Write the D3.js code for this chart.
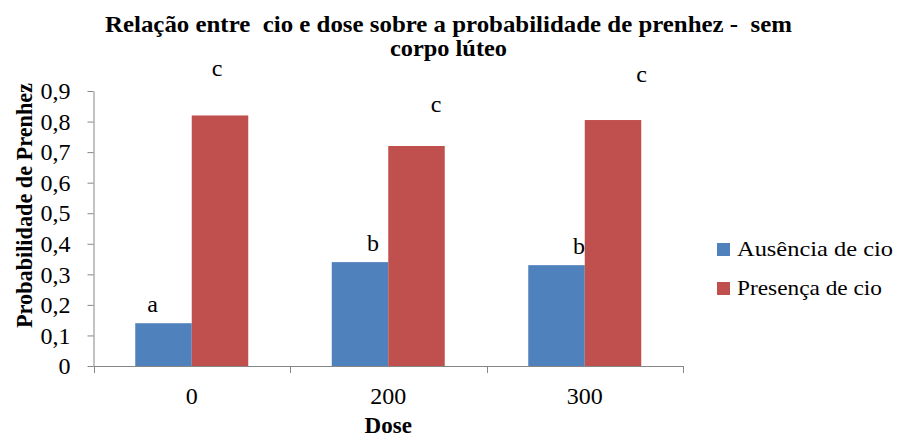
<!DOCTYPE html>
<html>
<head>
<meta charset="utf-8">
<script src="https://cdn.jsdelivr.net/npm/d3@7"></script>
</head>
<body style="margin:0;background:#fff">
<div class="graphic"></div>
<script>
const doses = ["0", "200", "300"];
const series = ["Ausência de cio", "Presença de cio"];
const ausencia = [0.14, 0.34, 0.33];
const presenca = [0.82, 0.72, 0.805];
const letrasAusencia = ["a", "b", "b"];
const letrasPresenca = ["c", "c", "c"];
const yTicks = [0, 0.1, 0.2, 0.3, 0.4, 0.5, 0.6, 0.7, 0.8, 0.9];
const titleLines = ["Relação entre  cio e dose sobre a probabilidade de prenhez -  sem", "corpo lúteo"];

let COLORS = ["#4F81BD", "#C0504D"];
let AXIS = "#868686";
let FONT = "'Tinos', 'Times', serif";
// hand placed letters in the original, offsets from the top centre of each bar
let NUDGE = [[[-11, -11], [-3, -39]], [[13, -11], [19.5, -34]], [[22.5, -11], [28.5, -38]]];

let svg = d3.select(".graphic")
            .append("svg")
            .attr("width", 897)
            .attr("height", 438);

let x0 = d3.scaleBand().domain(doses).range([93.5, 683]).padding(0);
let x1 = d3.scaleBand().domain(series).range([0, x0.bandwidth()])
           .paddingInner(0).paddingOuter(0.739);
let y = d3.scaleLinear().domain([0, 0.9]).range([366, 91]);

let rows = doses.map((d, i) => ({
    dose: d,
    vals: [ausencia[i], presenca[i]],
    letras: [letrasAusencia[i], letrasPresenca[i]]
}));

// title
svg.append("g").selectAll("text")
    .data(titleLines)
    .join("text")
    .attr("x", 448.5)
    .attr("y", (d, i) => 32 + i * 24)
    .attr("text-anchor", "middle")
    .attr("font-size", 24)
    .attr("font-weight", "bold")
    .style("white-space", "pre")
    .attr("textLength", (d, i) => i === 0 ? 687 : 117)
    .attr("lengthAdjust", "spacingAndGlyphs")
    .text(d => d);

// y axis
let yAxis = svg.append("g")
    .attr("transform", "translate(93.5,0)")
    .call(d3.axisLeft(y).tickValues(yTicks).tickSize(6).tickSizeOuter(0).tickPadding(17)
        .tickFormat(d => String(+d.toFixed(1)).replace(".", ",")));
yAxis.selectAll("path, line").attr("stroke", AXIS);
yAxis.selectAll("text").attr("font-size", 24).attr("fill", "#000");

// x axis line and boundary ticks
svg.append("line")
    .attr("x1", x0.range()[0]).attr("x2", x0.range()[1])
    .attr("y1", y(0) + 0.5).attr("y2", y(0) + 0.5)
    .attr("stroke", AXIS);
let bounds = doses.map(d => x0(d)).concat([x0.range()[1]]);
svg.append("g").selectAll("line")
    .data(bounds)
    .join("line")
    .attr("x1", d => Math.round(d) + 0.5).attr("x2", d => Math.round(d) + 0.5)
    .attr("y1", y(0)).attr("y2", y(0) + 7)
    .attr("stroke", AXIS);

svg.append("g").selectAll("text")
    .data(doses)
    .join("text")
    .attr("x", d => x0(d) + x0.bandwidth() / 2)
    .attr("y", 404)
    .attr("text-anchor", "middle")
    .attr("font-size", 24)
    .text(d => d);

// bars
let groups = svg.append("g").selectAll("g")
    .data(rows)
    .join("g")
    .attr("transform", d => `translate(${x0(d.dose)},0)`);

groups.selectAll("rect")
    .data(d => d.vals.map((v, k) => ({ s: series[k], v: v, k: k })))
    .join("rect")
    .attr("x", d => x1(d.s))
    .attr("y", d => y(d.v))
    .attr("width", x1.bandwidth())
    .attr("height", d => y(0) - y(d.v))
    .attr("fill", d => COLORS[d.k]);

groups.each(function (row, i) {
    d3.select(this).selectAll("text.letra")
        .data(row.letras)
        .join("text")
        .attr("class", "letra")
        .attr("x", (t, k) => x1(series[k]) + x1.bandwidth() / 2 + NUDGE[i][k][0])
        .attr("y", (t, k) => y(row.vals[k]) + NUDGE[i][k][1])
        .attr("text-anchor", "middle")
        .attr("font-size", 24)
        .text(t => t);
});

// axis titles
svg.append("text")
    .attr("transform", "translate(32,205.5) rotate(-90)")
    .attr("text-anchor", "middle")
    .attr("font-size", 24)
    .attr("font-weight", "bold")
    .attr("textLength", 245)
    .attr("lengthAdjust", "spacingAndGlyphs")
    .text("Probabilidade de Prenhez");

svg.append("text")
    .attr("x", (x0.range()[0] + x0.range()[1]) / 2)
    .attr("y", 433)
    .attr("text-anchor", "middle")
    .attr("font-size", 23)
    .attr("font-weight", "bold")
    .text("Dose");

// legend
let legend = svg.append("g").selectAll("g")
    .data(series)
    .join("g")
    .attr("transform", (d, i) => `translate(717,${243 + i * 39})`);
legend.append("rect")
    .attr("width", 13).attr("height", 13)
    .attr("fill", (d, i) => COLORS[i]);
legend.append("text")
    .attr("x", 20)
    .attr("y", 13)
    .attr("font-size", 22)
    .attr("textLength", (d, i) => i === 0 ? 156 : 145)
    .attr("lengthAdjust", "spacingAndGlyphs")
    .text(d => d);

svg.selectAll("text").style("font-family", FONT);
</script>
</body>
</html>
